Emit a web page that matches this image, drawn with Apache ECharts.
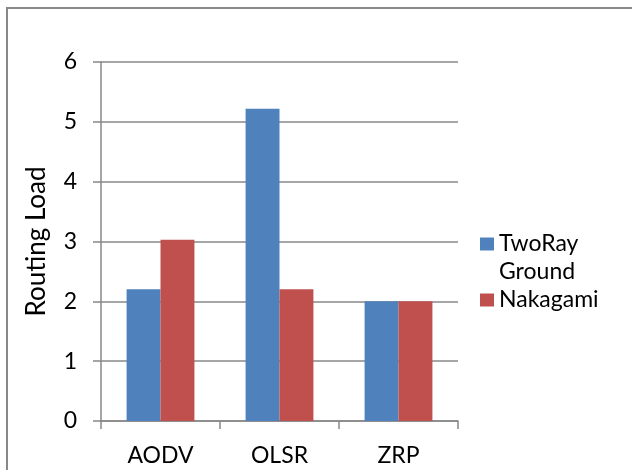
<!DOCTYPE html>
<html>
<head>
<meta charset="utf-8">
<script src="https://cdn.jsdelivr.net/npm/echarts@6/dist/echarts.min.js"></script>
<style>
  html, body { margin: 0; padding: 0; background: #fff; }
  #chart { width: 635px; height: 470px; }
  #frame {
    position: absolute; left: 6px; top: 7px; width: 624px; height: 480px;
    border-left: 2px solid #888; border-top: 2px solid #888;
    pointer-events: none;
  }
</style>
</head>
<body>
<div id="chart"></div>
<div id="frame"></div>
<script>
const protocols = ["AODV", "OLSR", "ZRP"];
const twoRayGround = [2.2, 5.22, 2.0];
const nakagami = [3.03, 2.2, 2.0];
const yTicks = [0, 1, 2, 3, 4, 5, 6];

const font = "Lato, 'Open Sans', sans-serif";
const grey = "#888888";

const chart = echarts.init(document.getElementById("chart"));
chart.setOption({
  animation: false,
  textStyle: { fontFamily: font },
  grid: { left: 101, right: 177, top: 62, bottom: 49 },
  legend: {
    orient: "vertical",
    left: 475,
    top: 197,
    itemGap: 0,
    itemWidth: 14,
    itemHeight: 13,
    icon: "rect",
    data: ["TwoRay Ground", "Nakagami"],
    // leading blank line so the square sits beside "TwoRay", not between the lines
    formatter: (name) => (name === "TwoRay Ground" ? "\nTwoRay\nGround" : name),
    textStyle: {
      fontFamily: font,
      fontSize: 23,
      color: "#000",
      lineHeight: 28,
    },
  },
  xAxis: {
    type: "category",
    data: protocols,
    axisLine: { lineStyle: { color: grey, width: 1.5 } },
    axisTick: { show: true, length: 8, lineStyle: { color: grey, width: 1.5 } },
    axisLabel: { color: "#000", fontSize: 23, margin: 23, fontFamily: font },
  },
  yAxis: {
    type: "value",
    min: yTicks[0],
    max: yTicks[yTicks.length - 1],
    interval: 1,
    name: "Routing Load",
    nameLocation: "middle",
    nameGap: 51,
    nameTextStyle: { color: "#000", fontSize: 26, fontFamily: font },
    axisLine: { show: true, lineStyle: { color: grey, width: 1.5 } },
    axisTick: { show: true, length: 8, lineStyle: { color: grey, width: 1.5 } },
    axisLabel: { color: "#000", fontSize: 23, margin: 24, fontFamily: font },
    splitLine: { lineStyle: { color: grey, width: 1.5 } },
  },
  series: [
    {
      name: "TwoRay Ground",
      type: "bar",
      data: twoRayGround,
      barGap: "0%",
      barCategoryGap: "43%",
      itemStyle: { color: "#4F81BD" },
    },
    {
      name: "Nakagami",
      type: "bar",
      data: nakagami,
      itemStyle: { color: "#C0504D" },
    },
  ],
});
</script>
</body>
</html>
